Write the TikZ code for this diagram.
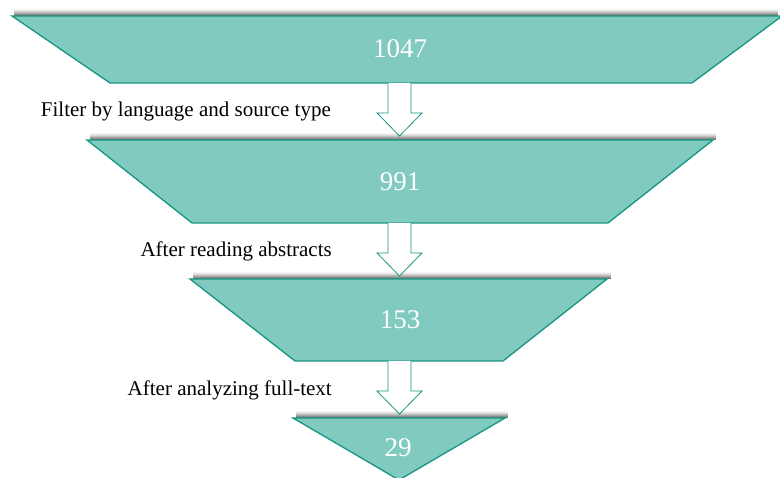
\documentclass[tikz,border=0pt]{standalone}
\usepackage{fontspec}
\setmainfont{Liberation Serif}
\definecolor{tealfill}{RGB}{128,202,192}
\definecolor{tealline}{RGB}{20,150,128}
\newcommand\myshadow[3]{%
  \foreach \i/\o in {1/0.55,2/0.45,3/0.35,4/0.25,5/0.16,6/0.09,7/0.04}{%
    \draw[black,opacity=\o,line width=1.05pt] (#1,#3-\i+0.5) -- (#2,#3-\i+0.5);}}
\begin{document}
\begin{tikzpicture}[x=1pt,y=-1pt,
  stage/.style={fill=tealfill,draw=tealline,line width=1.3pt,line join=miter},
  blockarrow/.style={fill=white,draw=tealline,line width=0.8pt,line join=miter},
  count/.style={text=white,font=\fontsize{27}{30}\selectfont,inner sep=0pt},
  lbl/.style={text=black,font=\fontsize{21}{24}\selectfont,inner sep=0pt,anchor=base east},
  downarrow/.pic={\filldraw[blockarrow] (-11.5,0) -- (-11.5,30) -- (-22.5,30) -- (0,53) -- (22.5,30) -- (11.5,30) -- (11.5,0);}]
\useasboundingbox (0,0) rectangle (780,478);
% shadows above the top edges
\myshadow{14}{778}{16}
\myshadow{90}{716}{140}
\myshadow{193}{611}{279}
\myshadow{296}{508}{418}
% stages
\draw[stage] (12,16) -- (782,16) -- (692,83) -- (110,83) -- cycle;
\draw[stage] (87,140) -- (713,140) -- (608,223) -- (192,223) -- cycle;
\draw[stage] (190,279) -- (607,279) -- (503,361) -- (295,361) -- cycle;
\draw[stage] (293,418) -- (505,418) -- (399,480) -- cycle;
% anchor points at the bottom of each stage
\coordinate (b1) at (399.5,83);
\coordinate (b2) at (399.5,223);
\coordinate (b3) at (399.5,361);
% counts
\node[count] (n1) at (400,49) {1047};
\node[count] (n2) at (400,181.5) {991};
\node[count] (n3) at (400,320) {153};
\node[count] (n4) at (398,448) {29};
% block arrows
\pic at (b1) {downarrow};
\pic at (b2) {downarrow};
\pic at (b3) {downarrow};
% labels
\node[lbl] (l1) at (331,117) {Filter by language and source type};
\node[lbl] (l2) at (332,257) {After reading abstracts};
\node[lbl] (l3) at (332,396) {After analyzing full-text};
\end{tikzpicture}
\end{document}
